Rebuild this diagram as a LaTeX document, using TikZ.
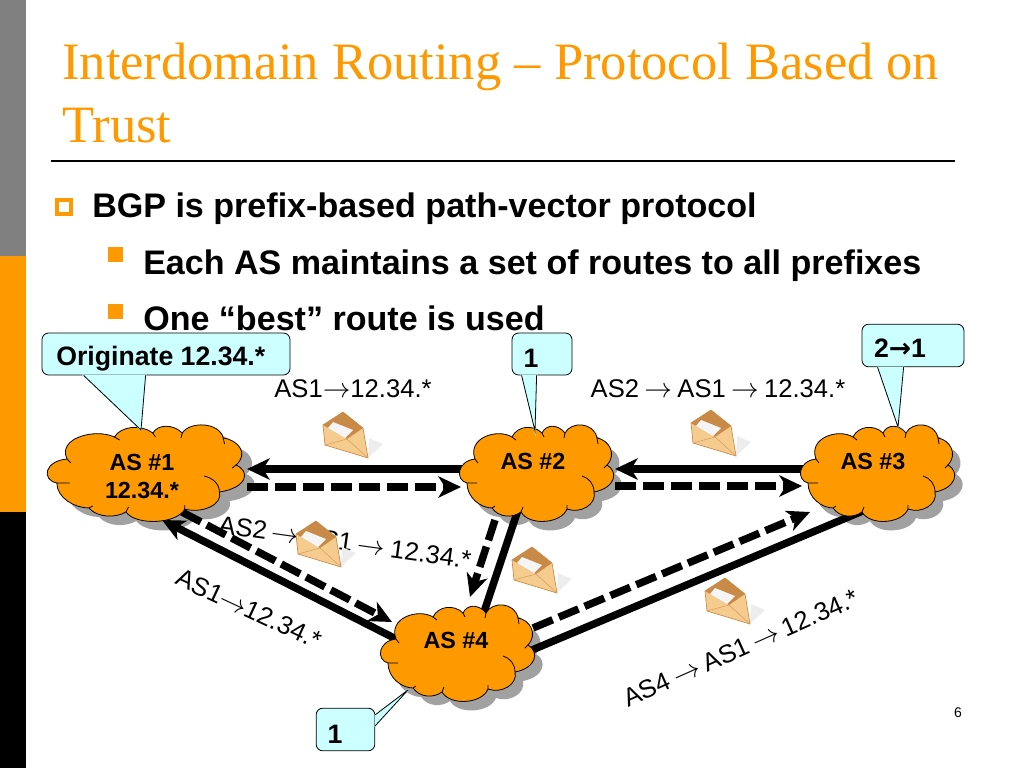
\documentclass[tikz,border=0pt]{standalone}
\usepackage{fontspec}
\setmainfont{Liberation Sans}
\newfontfamily\titlefont{Liberation Serif}
\newfontfamily\arrowfont{DejaVu Sans}
\usetikzlibrary{arrows.meta}
\definecolor{slideorange}{HTML}{FF9900}
\definecolor{calloutblue}{HTML}{CCFFFF}
\definecolor{envbody}{HTML}{F6CC8E}
\definecolor{envflap}{HTML}{C98A48}

\newcommand{\cloudoutline}{(-64,-15)
    .. controls (-72,-36) and (-42,-46) .. (-27,-37)
    .. controls (-22,-48) and (-6,-50) .. (3,-41)
    .. controls (7,-50) and (19,-50) .. (26,-41)
    .. controls (32,-53) and (55,-52) .. (58,-36)
    .. controls (70,-34) and (78,-20) .. (68,-9)
    .. controls (80,-2) and (76,14) .. (55,18)
    .. controls (58,30) and (42,40) .. (28,35)
    .. controls (22,50) and (-10,52) .. (-18,38)
    .. controls (-26,44) and (-40,44) .. (-47,34)
    .. controls (-58,34) and (-72,24) .. (-72,9)
    .. controls (-84,6) and (-82,-13) .. (-64,-15) -- cycle}
\newcommand{\boxpointer}[3]{
    \filldraw[calloutblue, line width=1pt] (#1) -- (#3) -- (#2) -- cycle;
    \draw[line width=0.6pt] (#1) -- (#3) -- (#2);
}
\newcommand{\routearrow}{\hspace{4pt}$\rightarrow$\hspace{4pt}}

\tikzset{
    cloudshadow/.pic={\fill[black!37, shift={(8,9)}] \cloudoutline;},
    cloudbody/.pic={
        \draw[fill=slideorange, line width=0.6pt] \cloudoutline;
        \draw[line width=0.6pt] (-72,9) -- (-62,9) (55,18) .. controls (55,10) and (50,4) .. (43,2)
            (-64,-15) -- (-61,-11) (68,-9) -- (65,-6) (58,-36) -- (59,-30) (26,-41) -- (25,-36)
            (3,-41) -- (5,-37) (-27,-37) -- (-23,-34) (-18,38) -- (-16,33) (28,35) -- (28,31) (-47,34) -- (-44,32);
    },
    astext/.style={font=\bfseries\fontsize{17.5}{21}\selectfont, align=center},
    routetext/.style={font=\fontsize{19.2}{23}\selectfont, inner sep=0pt},
    bodytext/.style={font=\bfseries\fontsize{25.55}{30}\selectfont, anchor=base west, inner sep=0pt},
    titletext/.style={font=\titlefont\fontsize{39.4}{47}\selectfont, text=slideorange, anchor=base west, inner sep=0pt},
    infobox/.style={rectangle, rounded corners=5pt, draw=black, line width=0.6pt, fill=calloutblue, inner sep=0pt},
    infotext/.style={font=\bfseries\fontsize{20}{23}\selectfont, inner sep=0pt},
    solidlink/.style={line width=5.6pt},
    dashedlink/.style={line width=5.6pt, dash pattern=on 16pt off 5pt},
    headlink/.style={-{Stealth[length=17pt, width=16pt, inset=5pt]}},
    envelope/.pic={
        \fill[black!7] (23,21) -- (38,7) -- (24,1) -- cycle;
        \fill[envbody, draw=envflap, line width=0.5pt] (-22,-12) -- (-2,-25) -- (18,-9) -- (23,21) -- (-20,8) -- cycle;
        \fill[envflap] (-22,-12) -- (-2,-25) -- (18,-9) -- (2,2) -- cycle;
        \fill[black!4] (-12,-15) -- (8,-7) -- (0,1) -- (-17,-9) -- cycle;
        \draw[envflap!70!envbody, line width=0.4pt] (-20,8) -- (2,2) -- (23,21);
    },
}

\begin{document}
\begin{tikzpicture}[x=0.75pt, y=-0.75pt]
    \useasboundingbox (0,0) rectangle (1024,768);

    \fill[black!50] (0,0) rectangle (26,256);
    \fill[slideorange] (0,256) rectangle (26,512);
    \fill[black] (0,512) rectangle (26,768);

    \node[titletext] at (62,79) (title1) {Interdomain Routing – Protocol Based on};
    \node[titletext] at (62,142) (title2) {Trust};
    \draw[line width=1.5pt] (51,161) -- (955,161);

    \draw[slideorange, line width=2.6pt] (57,200) rectangle (71,214);
    \fill[slideorange] (108,247) rectangle (123,262);
    \fill[slideorange] (108,304) rectangle (123,319);
    \node[bodytext] at (92,217) (line1) {BGP is prefix-based path-vector protocol};
    \node[bodytext] at (143,274) (line2) {Each AS maintains a set of routes to all prefixes};
    \node[bodytext] at (143,330) (line3) {One “best” route is used};

    \coordinate (as1) at (149,474);
    \coordinate (as2) at (539,474);
    \coordinate (as3) at (880,474);
    \coordinate (as4) at (460,654);

    \pic[xscale=1.28] at (as1) {cloudshadow};
    \pic at (as2) {cloudshadow};
    \pic at (as3) {cloudshadow};
    \pic at (as4) {cloudshadow};

    % top row
    \draw[solidlink, headlink] ([shift={(-70,-5)}]as2) -- ([shift={(98,-5)}]as1);
    \draw[dashedlink, headlink] ([shift={(98,13)}]as1) -- ([shift={(-78,13)}]as2);
    \draw[solidlink, headlink] ([shift={(-70,-5)}]as3) -- ([shift={(76,-5)}]as2);
    \draw[dashedlink, headlink] ([shift={(76,12)}]as2) -- ([shift={(-78,12)}]as3);
    % to and from as4
    \draw[solidlink, headlink] ([shift={(-60,-13)}]as4) -- ([shift={(13,46)}]as1);
    \draw[dashedlink, headlink] ([shift={(33,38)}]as1) -- ([shift={(-68,-32)}]as4);
    \draw[solidlink] ([shift={(-21,36)}]as2) -- ([shift={(24,-42)}]as4);
    \draw[dashedlink, headlink] ([shift={(-44,46)}]as2) -- ([shift={(10,-57)}]as4);
    \draw[solidlink] ([shift={(72,-4)}]as4) -- ([shift={(-15,36)}]as3);
    \draw[dashedlink, headlink] ([shift={(73,-26)}]as4) -- ([shift={(-70,38)}]as3);

    \pic[xscale=1.28] at (as1) {cloudbody};
    \pic at (as2) {cloudbody};
    \pic at (as3) {cloudbody};
    \pic at (as4) {cloudbody};

    \node[astext] at (142,476) (as1text) {AS \#1\\12.34.*};
    \node[astext] at (533,461) (as2text) {AS \#2};
    \node[astext] at (873,461) (as3text) {AS \#3};
    \node[astext] at (456,640) (as4text) {AS \#4};

    \node[routetext] at (353,389) (route12) {AS1$\rightarrow$12.34.*};
    \node[routetext] at (718,389) (route23) {AS2\routearrow AS1\routearrow 12.34.*};
    \node[routetext, rotate=-8] at (345,542) (route24) {AS2\routearrow AS1\routearrow 12.34.*};
    \node[routetext, rotate=-25] at (249,609) (route14) {AS1$\rightarrow$12.34.*};
    \node[routetext, rotate=24] at (741,648) (route43) {AS4\routearrow AS1\routearrow 12.34.*};

    \pic at (345,437) {envelope};
    \pic at (713,435) {envelope};
    \pic at (318,546) {envelope};
    \pic at (534,572) {envelope};
    \pic at (727,603) {envelope};

    \node[infobox, minimum width=186pt, minimum height=31.5pt] at (166,354) (box1) {};
    \node[infobox, minimum width=45pt, minimum height=31.5pt] at (542,354) (box2) {};
    \node[infobox, minimum width=76.5pt, minimum height=32pt] at (913,345.5) (box3) {};
    \node[infobox, minimum width=44pt, minimum height=32pt] at (345.5,729.5) (box4) {};

    \coordinate (tip1) at (141,430);
    \coordinate (tip2) at (535,431);
    \coordinate (tip3) at (898,427);
    \coordinate (tip4) at (408,690);
    \boxpointer{[shift={(42,0)}]box1.south west}{[shift={(104,0)}]box1.south west}{tip1}
    \boxpointer{[shift={(10,0)}]box2.south west}{[shift={(25,0)}]box2.south west}{tip2}
    \boxpointer{[shift={(16,0)}]box3.south west}{[shift={(42,0)}]box3.south west}{tip3}
    \boxpointer{[shift={(0,7)}]box4.north east}{[shift={(0,18)}]box4.north east}{tip4}

    \node[infotext, anchor=west] at (56,359) (box1text) {Originate 12.34.*};
    \node[infotext] at (531,358) (box2text) {1};
    \node[infotext] at (900,348) (box3text) {2{\arrowfont →}1};
    \node[infotext] at (335,734) (box4text) {1};

    \node[font=\fontsize{10.5}{12}\selectfont] at (958,713) (pagenum) {6};
\end{tikzpicture}
\end{document}
